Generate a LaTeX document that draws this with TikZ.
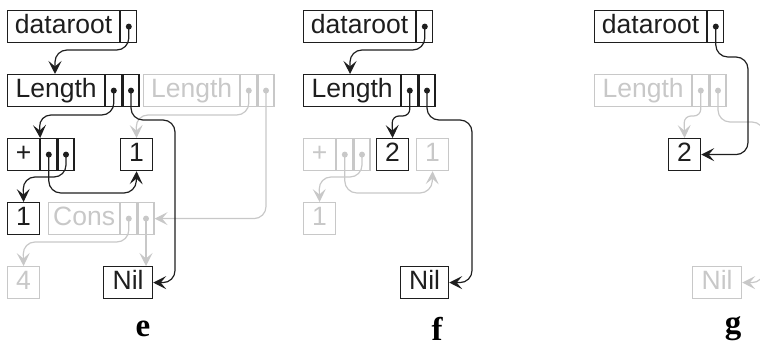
\documentclass[tikz,border=0pt]{standalone}
\usepackage{fontspec}
\setmainfont{Liberation Serif}
\setsansfont{Liberation Sans}
\usetikzlibrary{arrows.meta}
\definecolor{lg}{RGB}{200,200,200}
\definecolor{ink}{RGB}{30,30,30}
\begin{document}
\begin{tikzpicture}[x=1pt,y=-1pt,
 rec/.style={draw, inner sep=0pt, minimum height=32pt, anchor=north west, font=\sffamily\fontsize{26.5}{26.5}\selectfont, text height=18.5pt, text depth=5.5pt, line width=1.2pt},
 fld/.style={rec, minimum width=16pt},
 on/.style={draw=ink, text=ink},
 off/.style={draw=lg, text=lg},
 ptr/.style={line width=1.2pt, rounded corners=12pt, -{Stealth[length=13pt,width=13pt,inset=5.5pt]}},
 lbl/.style={font=\bfseries\fontsize{33}{33}\selectfont, text=black}
]
\useasboundingbox (0,0) rectangle (760,347);
\clip (0,0) rectangle (760,347);

% ---------------- panel e ----------------
\node[rec,off,minimum width=96pt] (eGLen) at (143,74) {Length};
\node[fld,off] (eGLa) at (eGLen.north east) {};
\node[fld,off] (eGLb) at (eGLa.north east) {};
\node[rec,off,minimum width=71pt] (eCons) at (48,202) {Cons};
\node[fld,off] (eCa) at (eCons.north east) {};
\node[fld,off] (eCb) at (eCa.north east) {};
\node[rec,off,minimum width=32pt] (eFour) at (7,266) {4};

\node[rec,on,minimum width=112pt] (eDR) at (7,10) {dataroot};
\node[fld,on] (eDRp) at (eDR.north east) {};
\node[rec,on,minimum width=97pt] (eLen) at (7,74) {Length};
\node[fld,on] (eLa) at (eLen.north east) {};
\node[fld,on] (eLb) at (eLa.north east) {};
\node[rec,on,minimum width=32pt] (ePlus) at (7,138) {+};
\node[fld,on] (ePa) at (ePlus.north east) {};
\node[fld,on] (ePb) at (ePa.north east) {};
\node[rec,on,minimum width=32pt] (eOneT) at (120,138) {1};
\node[rec,on,minimum width=32pt] (eOneL) at (7,202) {1};
\node[rec,on,minimum width=49pt] (eNil) at (103,266) {Nil};
\node[lbl] (eLbl) at (143,329) {e};

\draw[ptr,lg] (eGLa.center) |- (136,115) -- (eOneT.north);
\draw[ptr,lg] (eGLb.center) |- (eCb.east);
\draw[ptr,lg] (eCa.center) |- (23,242) -- (eFour.north);
\draw[ptr,lg] (eCb.center) -- (eCb.center |- eNil.north);
\foreach \n in {eGLa,eGLb,eCa,eCb} \fill[lg] (\n.center) circle (3pt);

\draw[ptr,ink] (eDRp.center) |- (55,50) -- (eLen.north -| 55,0);
\draw[ptr,ink] (eLa.center) |- (39,115) -- (ePa.north west);
\draw[ptr,ink] (eLb.center) |- (175,120) |- (eNil.east);
\draw[ptr,ink] (ePb.center) |- (23,177) -- (eOneL.north);
\draw[ptr,ink] (ePa.center) |- (136,193) -- (eOneT.south);
\foreach \n in {eDRp,eLa,eLb,ePa,ePb} \fill[ink] (\n.center) circle (3pt);

% ---------------- panel f ----------------
\node[rec,off,minimum width=32pt] (fPlus) at (303,138) {+};
\node[fld,off] (fPa) at (fPlus.north east) {};
\node[fld,off] (fPb) at (fPa.north east) {};
\node[rec,off,minimum width=32pt] (fOne) at (416,138) {1};
\node[rec,off,minimum width=32pt] (fOneL) at (303,202) {1};

\node[rec,on,minimum width=112pt] (fDR) at (303,10) {dataroot};
\node[fld,on] (fDRp) at (fDR.north east) {};
\node[rec,on,minimum width=97pt] (fLen) at (303,74) {Length};
\node[fld,on] (fLa) at (fLen.north east) {};
\node[fld,on] (fLb) at (fLa.north east) {};
\node[rec,on,minimum width=32pt] (fTwo) at (376,138) {2};
\node[rec,on,minimum width=48pt] (fNil) at (400,266) {Nil};
\node[lbl] (fLbl) at (437,329) {f};

\draw[ptr,lg] (fPa.center) |- (432,193) -- (fOne.south);
\draw[ptr,lg] (fPb.center) |- (319,177) -- (fOneL.north);
\foreach \n in {fPa,fPb} \fill[lg] (\n.center) circle (3pt);

\draw[ptr,ink] (fDRp.center) |- (350,50) -- (fLen.north -| 350,0);
\draw[ptr,ink,rounded corners=7pt] (fLa.center) |- (392,116) -- (fTwo.north);
\draw[ptr,ink] (fLb.center) |- (472,120) |- (fNil.east);
\foreach \n in {fDRp,fLa,fLb} \fill[ink] (\n.center) circle (3pt);

% ---------------- panel g ----------------
\node[rec,off,minimum width=97pt] (gLen) at (594,74) {Length};
\node[fld,off] (gLa) at (gLen.north east) {};
\node[fld,off] (gLb) at (gLa.north east) {};
\node[rec,off,minimum width=49pt] (gNil) at (692,266) {Nil};

\node[rec,on,minimum width=112pt] (gDR) at (594,10) {dataroot};
\node[fld,on] (gDRp) at (gDR.north east) {};
\node[rec,on,minimum width=32pt] (gTwo) at (668,138) {2};
\node[lbl] (gLbl) at (733,329) {g};

\draw[ptr,lg,rounded corners=7pt] (gLa.center) |- (684,116) -- (gTwo.north);
\draw[ptr,lg] (gLb.center) |- (764,122) |- (gNil.east);
\foreach \n in {gLa,gLb} \fill[lg] (\n.center) circle (3pt);

\draw[ptr,ink] (gDRp.center) |- (748,57) |- (gTwo.east);
\fill[ink] (gDRp.center) circle (3pt);
\end{tikzpicture}
\end{document}
